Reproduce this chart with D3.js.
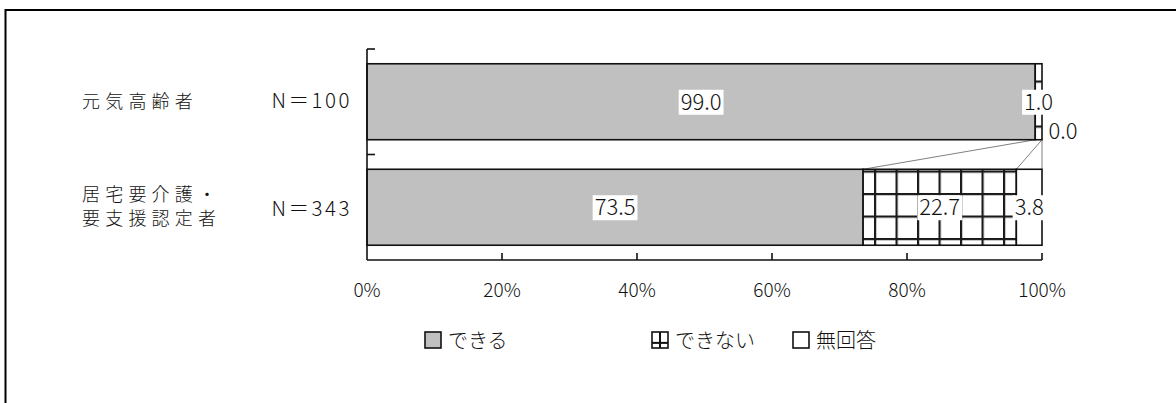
<!DOCTYPE html>
<html><head><meta charset="utf-8">
<script src="https://cdn.jsdelivr.net/npm/d3@7"></script>
<style>
html,body{margin:0;padding:0;background:#fff;}
svg{display:block;font-family:"Noto Sans CJK JP","Noto Sans",sans-serif;font-weight:300;}
</style></head>
<body>
<svg id="chart" width="1176" height="403"></svg>
<script>
const categories = ["元気高齢者", "居宅要介護・\n要支援認定者"];
const sampleSizes = ["N＝100", "N＝343"];
const seriesNames = ["できる", "できない", "無回答"];
const canValues = [99.0, 73.5];
const cannotValues = [1.0, 22.7];
const noAnswerValues = [0.0, 3.8];
const tickValues = [0, 20, 40, 60, 80, 100];

const svg = d3.select("#chart");

// outer frame
svg.append("rect").attr("x", 5.5).attr("y", 10).attr("width", 1300).attr("height", 500)
  .attr("fill", "none").attr("stroke", "#000").attr("stroke-width", 2);

const x = d3.scaleLinear().domain([0, 100]).range([367, 1042]);
const y = d3.scaleBand().domain(categories).range([49, 260]).paddingInner(0.28).paddingOuter(0.14);

// pattern for できない
const defs = svg.append("defs");
const pat = defs.append("pattern").attr("id", "grid").attr("patternUnits", "userSpaceOnUse")
  .attr("x", 874).attr("y", 193).attr("width", 21.5).attr("height", 22.5);
pat.append("rect").attr("width", 21.5).attr("height", 22.5).attr("fill", "#fff");
pat.append("rect").attr("x", 0).attr("y", 0).attr("width", 2.2).attr("height", 22.5).attr("fill", "#1a1a1a");
pat.append("rect").attr("x", 0).attr("y", 0).attr("width", 21.5).attr("height", 2.2).attr("fill", "#1a1a1a");

const fills = ["#c0c0c0", "url(#grid)", "#ffffff"];
const seriesValues = [canValues, cannotValues, noAnswerValues];

const rows = categories.map((c, i) => {
  let cum = 0;
  const segs = seriesValues.map((vals, s) => {
    const v = vals[i];
    const seg = {cat: c, s, v, x0: cum, x1: cum + v};
    cum += v;
    return seg;
  });
  return {cat: c, segs};
});

// series connector lines
const bw = y.bandwidth();
for (let k = 0; k < seriesNames.length; k++) {
  const a = rows[0].segs[k].x1, b = rows[1].segs[k].x1;
  svg.append("line")
    .attr("x1", x(Math.min(a, 100))).attr("y1", y(categories[0]) + bw)
    .attr("x2", x(Math.min(b, 100))).attr("y2", y(categories[1]))
    .attr("stroke", "#808080").attr("stroke-width", 1);
}

// bars
rows.forEach(r => {
  svg.selectAll(null).data(r.segs.filter(d => d.v > 0)).enter().append("rect")
    .attr("x", d => x(d.x0)).attr("y", y(r.cat))
    .attr("width", d => x(d.x1) - x(d.x0)).attr("height", bw)
    .attr("fill", d => fills[d.s]).attr("stroke", "#111").attr("stroke-width", 1.6);
});

// axes
const axisG = svg.append("g").attr("stroke", "#111").attr("stroke-width", 1.6).attr("fill", "none");
axisG.append("line").attr("x1", x(0)).attr("x2", x(0)).attr("y1", 49).attr("y2", 260);
axisG.append("line").attr("x1", x(0)).attr("x2", x(100)).attr("y1", 260).attr("y2", 260);
tickValues.filter(t => t > 0).forEach(t => {
  axisG.append("line").attr("x1", x(t)).attr("x2", x(t)).attr("y1", 260).attr("y2", 253);
});
const halfGap = y.step() * y.paddingInner() / 2;
categories.forEach(c => {
  const ty = y(c) - halfGap;
  axisG.append("line").attr("x1", x(0)).attr("x2", x(0) + 8).attr("y1", ty).attr("y2", ty);
});

// tick labels
svg.selectAll(".tl").data(tickValues).enter().append("text")
  .attr("x", d => x(d)).attr("y", 297).attr("text-anchor", "middle")
  .attr("font-size", 19).attr("fill", "#111").text(d => d + "%");

// category labels
categories.forEach((c, i) => {
  const cy = y(c) + bw / 2;
  const lines = c.split("\n");
  lines.forEach((ln, j) => {
    svg.append("text").attr("x", 82)
      .attr("font-size", 18).attr("letter-spacing", 5.2).attr("fill", "#111")
      .attr("y", cy + 6 + (j - (lines.length - 1) / 2) * 24)
      .text(ln);
  });
  svg.append("text").attr("x", 352).attr("y", cy + 7 + (i === 1 ? 2 : -1)).attr("text-anchor", "end")
    .attr("font-size", 20.5).attr("letter-spacing", 2.5).attr("fill", "#111").text(sampleSizes[i]);
});

// data labels
const labelFont = 22;
rows.forEach((r, i) => {
  r.segs.forEach(d => {
    let lx = x((d.x0 + d.x1) / 2), ly = y(r.cat) + bw / 2;
    if (d.v === 0) { lx = x(100) + 21; ly = ly + 29; }
    const g = svg.append("g");
    const t = g.append("text").attr("x", lx).attr("y", ly + 8).attr("text-anchor", "middle")
      .attr("font-size", labelFont).attr("fill", "#111").text(d.v.toFixed(1));
    if (d.v !== 0) {
      const bb = t.node().getBBox();
      g.insert("rect", "text").attr("x", bb.x - 2).attr("y", ly - 12).attr("width", bb.width + 4).attr("height", 25)
        .attr("fill", "#fff");
    }
  });
});

// legend
const legendItems = [
  {name: seriesNames[0], x: 425, type: 0},
  {name: seriesNames[1], x: 652, type: 1},
  {name: seriesNames[2], x: 793, type: 2}
];
legendItems.forEach(it => {
  const g = svg.append("g");
  const sx = it.x, sy = 332, s = 16;
  g.append("rect").attr("x", sx).attr("y", sy).attr("width", s).attr("height", s)
    .attr("fill", it.type === 0 ? "#c0c0c0" : "#fff").attr("stroke", "#111").attr("stroke-width", 1.6);
  if (it.type === 1) {
    g.append("line").attr("x1", sx + s / 2).attr("x2", sx + s / 2).attr("y1", sy).attr("y2", sy + s)
      .attr("stroke", "#111").attr("stroke-width", 2);
    g.append("line").attr("x1", sx).attr("x2", sx + s).attr("y1", sy + s * 0.68).attr("y2", sy + s * 0.68)
      .attr("stroke", "#111").attr("stroke-width", 2);
  }
  g.append("text").attr("x", sx + s + 7).attr("y", sy + s - 0.5).attr("font-size", 20).attr("fill", "#111")
    .text(it.name);
});
</script>
</body></html>
